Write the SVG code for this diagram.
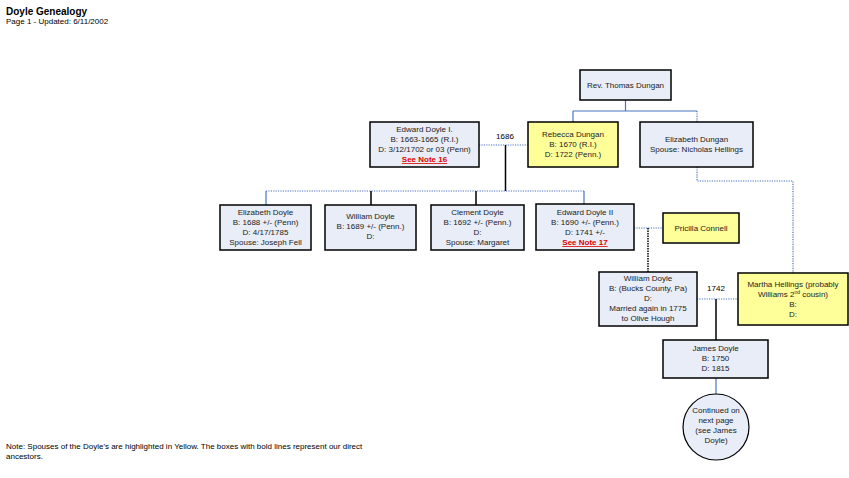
<svg xmlns="http://www.w3.org/2000/svg" width="849" height="478" viewBox="0 0 849 478">
<style>
text{font-family:"Liberation Sans",Arial,sans-serif;font-size:8px;fill:#222;text-anchor:middle}
.box{fill:#e8edf7;stroke:#000;stroke-width:1.5}
.sp{fill:#ffff99;stroke:#000;stroke-width:1.5}
.blue{fill:none;stroke:#4a74c0;stroke-width:1.2}
.bdot{fill:none;stroke:#4a74c0;stroke-width:1.2;stroke-dasharray:1.2 1.2}
.blk{fill:none;stroke:#000;stroke-width:1.5}
.note{fill:#d00;font-weight:bold;text-decoration:underline}
.lbl{font-size:8px;fill:#000}
.l{text-anchor:start;fill:#000}
</style>
<rect width="849" height="478" fill="#fff"/>
<text class="l" x="6" y="15" style="font-size:10px;font-weight:bold">Doyle Genealogy</text>
<text class="l" x="6" y="24" style="font-size:8px">Page 1 - Updated: 6/11/2002</text>
<g id="connectors">
<path class="blue" d="M625.5 100V111M573 111H697M573 111V122"/>
<path class="bdot" d="M697 111V122"/>
<path class="bdot" d="M697 167V181H793V273"/>
<path class="bdot" d="M479 145H528"/>
<path class="blk" d="M505.5 145V191"/>
<path class="bdot" d="M266 191H584"/>
<path class="blue" d="M266 191V205M584 191V204"/>
<path class="blk" d="M371 191V205M476 191V205"/>
<path class="bdot" d="M634 228H663"/>
<path class="blk" d="M648 228V272" stroke-dasharray="1.5 1"/>
<path class="bdot" d="M697 299H738"/>
<path class="blk" d="M716 299V340"/>
<path class="blue" d="M716 378V394"/>
</g>
<text class="lbl" x="505" y="139">1686</text>
<text class="lbl" x="716" y="291">1742</text>
<g id="rev-thomas-dungan">
<rect class="box" x="580" y="70" width="91" height="30"/>
<text x="625.5" y="88">Rev. Thomas Dungan</text>
</g>
<g id="edward-doyle-i">
<rect class="box" x="370" y="122" width="109" height="45"/>
<text x="424.5" y="132">Edward Doyle I.</text>
<text x="424.5" y="142">B: 1663-1665 (R.I.)</text>
<text x="424.5" y="152">D: 3/12/1702 or 03 (Penn)</text>
<text x="424.5" y="162" class="note">See Note 16</text>
</g>
<g id="rebecca-dungan">
<rect class="sp" x="528" y="122" width="90" height="45"/>
<text x="573" y="137">Rebecca Dungan</text>
<text x="573" y="147">B: 1670 (R.I.)</text>
<text x="573" y="157">D: 1722 (Penn.)</text>
</g>
<g id="elizabeth-dungan">
<rect class="box" x="640" y="122" width="113" height="45"/>
<text x="696.5" y="142">Elizabeth Dungan</text>
<text x="696.5" y="152">Spouse: Nicholas Hellings</text>
</g>
<g id="elizabeth-doyle">
<rect class="box" x="220" y="205" width="91" height="45"/>
<text x="265.5" y="215">Elizabeth Doyle</text>
<text x="265.5" y="225">B: 1688 +/- (Penn)</text>
<text x="265.5" y="235">D: 4/17/1785</text>
<text x="265.5" y="245">Spouse: Joseph Fell</text>
</g>
<g id="william-doyle-1689">
<rect class="box" x="325" y="205" width="91" height="45"/>
<text x="370.5" y="219">William Doyle</text>
<text x="370.5" y="229">B: 1689 +/- (Penn.)</text>
<text x="370.5" y="239">D:</text>
</g>
<g id="clement-doyle">
<rect class="box" x="431" y="205" width="93" height="45"/>
<text x="477.5" y="215">Clement Doyle</text>
<text x="477.5" y="225">B: 1692 +/- (Penn.)</text>
<text x="477.5" y="235">D:</text>
<text x="477.5" y="245">Spouse: Margaret</text>
</g>
<g id="edward-doyle-ii">
<rect class="box" x="536" y="204" width="98" height="46"/>
<text x="585" y="215">Edward Doyle II</text>
<text x="585" y="225">B: 1690 +/- (Penn.)</text>
<text x="585" y="235">D: 1741 +/-</text>
<text x="585" y="245" class="note">See Note 17</text>
</g>
<g id="pricilla-connell">
<rect class="sp" x="663" y="213" width="76" height="30"/>
<text x="701" y="231">Pricilla Connell</text>
</g>
<g id="william-doyle">
<rect class="box" x="599" y="272" width="98" height="54"/>
<text x="648" y="281">William Doyle</text>
<text x="648" y="291">B: (Bucks County, Pa)</text>
<text x="648" y="301">D:</text>
<text x="648" y="311">Married again in 1775</text>
<text x="648" y="321">to Olive Hough</text>
</g>
<g id="martha-hellings">
<rect class="sp" x="738" y="273" width="110" height="52"/>
<text x="793" y="287">Martha Hellings (probably</text>
<text x="793" y="297">Williams 2<tspan dy="-3" style="font-size:5px">nd</tspan><tspan dy="3"> cousin)</tspan></text>
<text x="793" y="307">B:</text>
<text x="793" y="317">D:</text>
</g>
<g id="james-doyle">
<rect class="box" x="663" y="340" width="105" height="38"/>
<text x="715.5" y="351">James Doyle</text>
<text x="715.5" y="361">B: 1750</text>
<text x="715.5" y="371">D: 1815</text>
</g>
<g id="continued">
<circle cx="716" cy="427" r="33" fill="#e8edf7" stroke="#000" stroke-width="1.2"/>
<text x="716" y="413">Continued on</text>
<text x="716" y="423">next page</text>
<text x="716" y="433">(see James</text>
<text x="716" y="443">Doyle)</text>
</g>
<text class="l" x="6" y="449" style="font-size:8px">Note: Spouses of the Doyle's are highlighted in Yellow.  The boxes with bold lines represent our direct</text>
<text class="l" x="6" y="459" style="font-size:8px">ancestors.</text>
</svg>
